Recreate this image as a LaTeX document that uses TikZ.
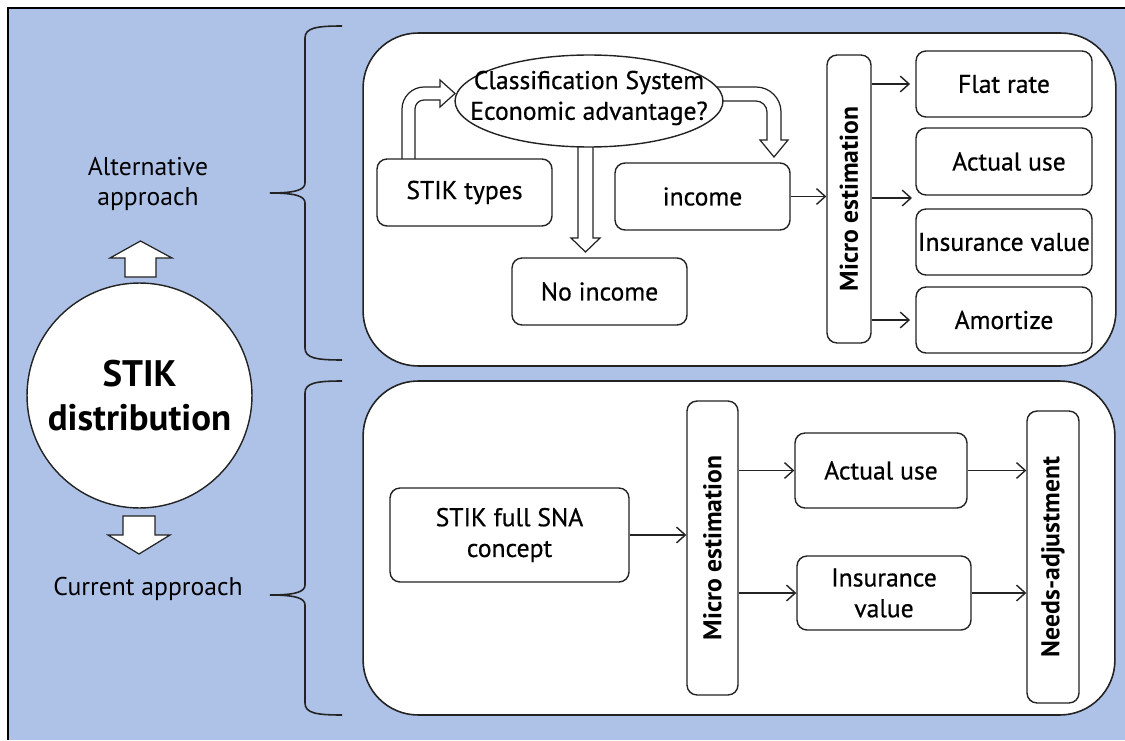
\documentclass[tikz,border=0pt]{standalone}
\usepackage{fontspec}
\usepackage{graphicx}
\setmainfont{PT Sans}
\newfontfamily\boxfont{PT Sans}[FakeBold=0.6]
\usetikzlibrary{shapes.geometric,arrows.meta}
\definecolor{bg}{RGB}{174,194,232}
\definecolor{ln}{RGB}{35,35,35}
\begin{document}
\begin{tikzpicture}[x=0.02cm,y=-0.02cm,
 lbl/.style={font=\fontsize{14.6}{17.5}\selectfont, align=center, inner sep=0pt},
 box/.style={draw=ln, line width=0.8pt, fill=white, rounded corners=0.2cm, font=\boxfont\fontsize{14.6}{17.5}\selectfont, align=center, inner sep=0pt},
 vbox/.style={box, font=\fontsize{14.6}{17.5}\selectfont\bfseries},
 panel/.style={draw=ln, line width=0.9pt, fill=white, rounded corners=1.1cm, inner sep=0pt},
 fat/.style={draw=ln, line width=0.7pt, fill=white, line join=miter},
 brace/.style={draw=ln, line width=0.9pt},
 conn/.style={draw=ln, line width=0.8pt, -{Straight Barb[length=5pt,width=9pt]}},
]
\useasboundingbox (0,0) rectangle (1125,740);
\fill[white] (0,0) rectangle (1125,740);
\fill[bg] (8,8) rectangle (1125,740);
\draw[black, line width=1.2pt] (8,740) -- (8,8) -- (1125,8);

% panels
\node[panel, minimum width=15.06cm, minimum height=6.66cm] (top) at (739.5,199.5) {};
\node[panel, minimum width=15.04cm, minimum height=6.68cm] (bot) at (739,548) {};

% braces
\draw[brace] (342,26) .. controls (316,26) and (305,28) .. (305,38) -- (305,183)
  .. controls (305,190) and (295,193) .. (270,193)
  .. controls (295,193) and (305,196) .. (305,203) -- (305,348)
  .. controls (305,358) and (316,360) .. (342,360);
\draw[brace] (342,381) .. controls (316,381) and (305,383) .. (305,393) -- (305,585)
  .. controls (305,592) and (295,595) .. (270,595)
  .. controls (295,595) and (305,598) .. (305,605) -- (305,703)
  .. controls (305,713) and (316,715) .. (342,715);

% circle and side labels
\node[circle, draw=ln, line width=0.8pt, fill=white, minimum size=4.5cm, inner sep=0pt, align=center, font=\fontsize{21}{25}\selectfont\bfseries] (dist) at (139.5,395.5) {STIK\\distribution};
\draw[fat] (125,277) -- (125,258) -- (110,258) -- (140.5,241) -- (172,258) -- (156,258) -- (156,277) -- cycle;
\draw[fat] (123,516) -- (155,516) -- (155,535) -- (170,535) -- (139,554) -- (108,535) -- (123,535) -- cycle;
\node[lbl] (alt) at (148,184) {Alternative\\approach};
\node[lbl] (cur) at (148,589) {Current approach};

% fat arrows in upper panel
\draw[fat] (402,165) -- (402,109) .. controls (402,97) and (412,87) .. (424,87) -- (440,87) -- (440,80) -- (455,93.5) -- (440,107) -- (440,100) -- (424,100) .. controls (419,100) and (415,104) .. (415,109) -- (415,165) -- cycle;
\draw[fat] (712,87) -- (756,87) .. controls (769.8,87) and (781,98.2) .. (781,112) -- (781,140) -- (788,140) -- (774,157) -- (760,140) -- (767,140) -- (767,112) .. controls (767,106) and (762,101) .. (756,101) -- (712,101) -- cycle;
\draw[fat] (578,140) -- (578,238) -- (571,238) -- (585.5,252) -- (600,238) -- (593,238) -- (593,140) -- cycle;

% upper panel nodes
\node[ellipse, draw=ln, line width=0.8pt, fill=white, minimum width=5.36cm, minimum height=1.84cm, inner sep=0pt] (cls) at (589,101) {};
\node[box, draw=none, fill=none] (clsT) at (589,98) {Classification System\\Economic advantage?};
\node[box, minimum width=3.5cm, minimum height=1.34cm] (types) at (464.5,192.5) {STIK types};
\node[box, minimum width=3.5cm, minimum height=1.34cm] (inc) at (702.5,196.5) {income};
\node[box, minimum width=3.5cm, minimum height=1.34cm] (noinc) at (599.5,291.5) {No income};
\node[vbox, minimum width=0.88cm, minimum height=5.76cm] (micro1) at (849,199) {\rotatebox{90}{Micro estimation}};
\node[box, minimum width=3.52cm, minimum height=1.32cm] (flat) at (1004,84) {Flat rate};
\node[box, minimum width=3.52cm, minimum height=1.34cm] (act1) at (1004,161.5) {\hspace*{0.2cm}Actual use};
\node[box, minimum width=3.52cm, minimum height=1.32cm] (ins1) at (1004,242) {Insurance value};
\node[box, minimum width=3.52cm, minimum height=1.32cm] (amort) at (1004,320) {Amortize};
\coordinate (gap) at (912,198);

\draw[conn] (inc.east) -- (inc.east -| micro1.west);
\draw[conn] (micro1.east |- flat.west) -- ([xshift=-3pt]flat.west);
\draw[conn] (micro1.east |- gap) -- (gap);
\draw[conn] (micro1.east |- amort.west) -- ([xshift=-3pt]amort.west);

% lower panel nodes
\node[box, minimum width=4.78cm, minimum height=1.88cm] (sna) at (509.5,535) {STIK full SNA\\concept};
\node[vbox, minimum width=1.02cm, minimum height=5.88cm] (micro2) at (712.5,548) {\rotatebox{90}{Micro estimation}};
\node[box, minimum width=3.44cm, minimum height=1.5cm] (act2) at (881,470.5) {Actual use};
\node[box, minimum width=3.48cm, minimum height=1.48cm] (ins2) at (884,593) {Insurance\\value};
\node[vbox, minimum width=1.04cm, minimum height=5.84cm] (needs) at (1053,557) {\rotatebox{90}{Needs-adjustment}};

\draw[conn] (sna.east) -- (sna.east -| micro2.west);
\draw[conn] (micro2.east |- act2.west) -- (act2.west);
\draw[conn] (micro2.east |- ins2.west) -- (ins2.west);
\draw[conn] (act2.east) -- (act2.east -| needs.west);
\draw[conn] (ins2.east) -- (ins2.east -| needs.west);
\end{tikzpicture}
\end{document}
